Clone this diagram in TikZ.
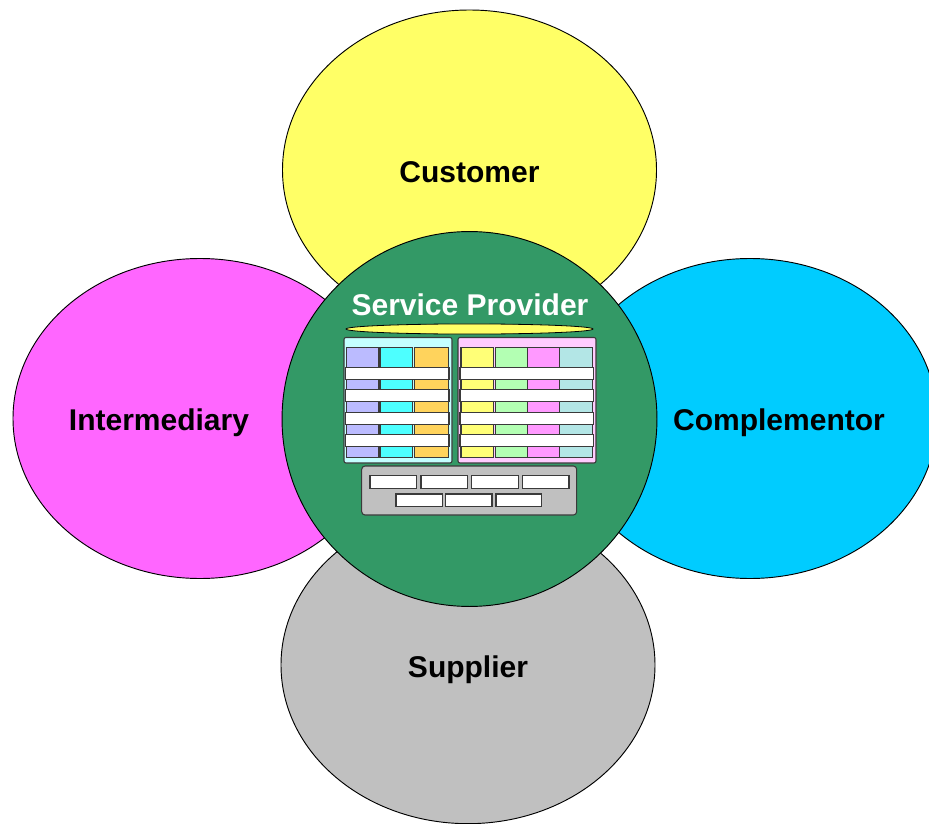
\documentclass[tikz,border=0pt]{standalone}
\usepackage{fontspec}
\setmainfont{Liberation Sans}
\definecolor{cyel}{HTML}{FFFF66}
\definecolor{cmag}{HTML}{FF66FF}
\definecolor{ccya}{HTML}{00CCFF}
\definecolor{cgry}{HTML}{C0C0C0}
\definecolor{cgrn}{HTML}{339966}
\definecolor{pcya}{HTML}{C4FFFF}
\definecolor{ppnk}{HTML}{FFCCFF}
\definecolor{lc1}{HTML}{BBBBFF}
\definecolor{lc2}{HTML}{4DFFFF}
\definecolor{lc3}{HTML}{FFD35C}
\definecolor{rc1}{HTML}{FFFF77}
\definecolor{rc2}{HTML}{B3FFB3}
\definecolor{rc3}{HTML}{FF99FF}
\definecolor{rc4}{HTML}{B3E6E6}
\definecolor{edge}{HTML}{3A3A3A}
\tikzset{
  blob/.style={draw=black, line width=0.7pt},
  lbl/.style={anchor=base, inner sep=0pt, font=\fontsize{22.5}{26}\selectfont\bfseries},
  panel/.style={draw=edge, line width=0.8pt, rounded corners=1.5pt},
  cell/.style={draw=edge, line width=0.9pt},
  bar/.style={draw=edge, line width=0.9pt, fill=white},
}
\begin{document}
\begin{tikzpicture}[x=0.75pt,y=-0.75pt]
\useasboundingbox (0,0) rectangle (929,824);
\clip (0,0) rectangle (929,824);
% outer ellipses
\draw[blob, fill=cyel] (469.5,170) ellipse [x radius=140.25pt, y radius=120pt];
\draw[blob, fill=cmag] (200,418.5) ellipse [x radius=140.25pt, y radius=120pt];
\draw[blob, fill=ccya] (750,418.5) ellipse [x radius=140.25pt, y radius=120pt];
\draw[blob, fill=cgry] (468,665) ellipse [x radius=140.25pt, y radius=119pt];
% central circle
\draw[blob, fill=cgrn] (469.5,419) circle [radius=140.6pt];
% labels
\node[lbl] (cust) at (469.5,182) {Customer};
\node[lbl] (inter) at (159,430) {Intermediary};
\node[lbl] (compl) at (779,430) {Complementor};
\node[lbl] (supp) at (468,677.5) {Supplier};
\node[lbl, text=white] (sp) at (470,315) {Service Provider};
% yellow disc
\draw[draw=black, line width=0.6pt, fill=cyel] (469.5,329) ellipse [x radius=92.6pt, y radius=3.8pt];
% left panel
\draw[panel, fill=pcya] (344,337.5) rectangle (452,463);
\draw[cell, fill=lc1] (346.7,347.7) rectangle (379,457.7);
\draw[cell, fill=lc2] (380.7,347.7) rectangle (412.7,457.7);
\draw[cell, fill=lc3] (414.3,347.7) rectangle (448.3,457.7);
\foreach \ya/\yb in {367.3/379.3, 389.3/401.3, 412.3/424.3, 434.3/446.3}
  \draw[bar] (345.7,\ya) rectangle (449,\yb);
% right panel
\draw[panel, fill=ppnk] (458,337.5) rectangle (596,463);
\draw[cell, fill=rc1] (461,347.7) rectangle (493.5,457.7);
\draw[cell, fill=rc2] (495.8,347.7) rectangle (527.3,457.7);
\draw[cell, fill=rc3] (527.3,347.7) rectangle (559.3,457.7);
\draw[cell, fill=rc4] (559.3,347.7) rectangle (592.3,457.7);
\foreach \ya/\yb in {367.3/379.3, 389.3/401.3, 412.3/424.3, 434.3/446.3}
  \draw[bar] (460,\ya) rectangle (593.5,\yb);
% bottom box
\draw[panel, fill=cgry, rounded corners=2.5pt] (361.7,466) rectangle (576.7,515);
\foreach \xa/\xb in {370/416.7, 421/467.3, 471.7/518.3, 522.7/569}
  \draw[bar] (\xa,475.7) rectangle (\xb,488.3);
\foreach \xa/\xb in {396/442.7, 445.7/492, 496/541.7}
  \draw[bar] (\xa,494) rectangle (\xb,506.3);
\end{tikzpicture}
\end{document}
